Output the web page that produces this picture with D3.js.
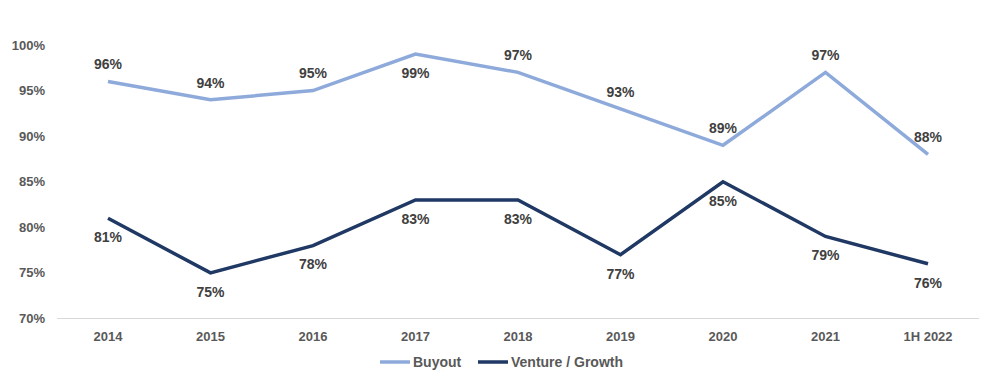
<!DOCTYPE html>
<html><head><meta charset="utf-8">
<script src="https://cdn.jsdelivr.net/npm/d3@7"></script>
<style>body{margin:0;background:#fff}svg{display:block}text{font-family:"Liberation Sans",Arial,sans-serif;font-weight:bold}</style>
</head><body><svg id="c" width="995" height="391"></svg>
<script>
const categories = ["2014","2015","2016","2017","2018","2019","2020","2021","1H 2022"];
const buyout = [96,94,95,99,97,93,89,97,88];
const venture = [81,75,78,83,83,77,85,79,76];
const buyoutLabelPos = ["above","above","above","below","above","above","above","above","above"];
const ventureLabelPos = ["below","below","below","below","below","below","below","below","below"];
const yTicks = [70,75,80,85,90,95,100];
const seriesNames = ["Buyout","Venture / Growth"];
const colors = ["#8eaadb","#1f3864"];

const svg = d3.select("#c");
const x = d3.scalePoint().domain(categories).range([108,928]);
const y = d3.scaleLinear().domain([70,100]).range([318.5,45]);

svg.append("g").selectAll("text").data(yTicks).join("text")
  .attr("x",45).attr("y",d=>y(d)).attr("dy","0.35em").attr("text-anchor","end")
  .attr("font-size",13).attr("fill","#595959").text(d=>d+"%");

svg.append("line").attr("x1",57).attr("x2",979).attr("y1",318.5).attr("y2",318.5)
  .attr("stroke","#d9d9d9").attr("stroke-width",1);

svg.append("g").selectAll("text").data(categories).join("text")
  .attr("x",d=>x(d)).attr("y",336).attr("dy","0.35em").attr("text-anchor","middle")
  .attr("font-size",13).attr("fill","#595959").text(d=>d);

const line = d3.line().x((d,i)=>x(categories[i])).y(d=>y(d));
[[buyout,buyoutLabelPos],[venture,ventureLabelPos]].forEach(([vals,pos],k)=>{
  svg.append("path").datum(vals).attr("d",line).attr("fill","none")
    .attr("stroke",colors[k]).attr("stroke-width",3.5).attr("stroke-linejoin","miter");
  svg.append("g").selectAll("text").data(vals).join("text")
    .attr("x",(d,i)=>x(categories[i]))
    .attr("y",(d,i)=>y(d)+(pos[i]==="above"?-17:19))
    .attr("dy","0.35em").attr("text-anchor","middle")
    .attr("font-size",14).attr("fill","#404040").text(d=>d+"%");
});

const leg = [{x:380},{x:478}];
leg.forEach((l,k)=>{
  svg.append("line").attr("x1",l.x).attr("x2",l.x+30).attr("y1",362).attr("y2",362)
    .attr("stroke",colors[k]).attr("stroke-width",3.5);
  svg.append("text").attr("x",l.x+33).attr("y",362).attr("dy","0.35em")
    .attr("font-size",14).attr("fill","#595959").text(seriesNames[k]);
});
</script></body></html>
